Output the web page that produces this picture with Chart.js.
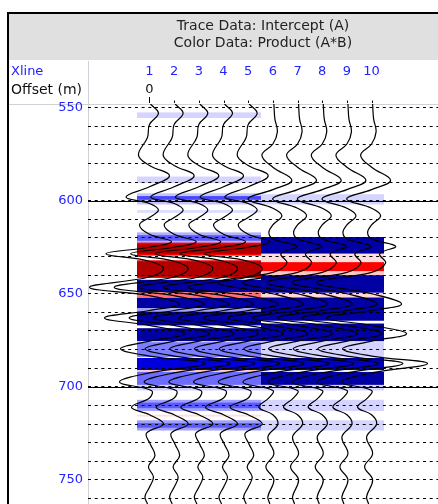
<!DOCTYPE html>
<html>
<head>
<meta charset="utf-8">
<script src="https://cdn.jsdelivr.net/npm/chart.js@4.4.0/dist/chart.umd.min.js"></script>
<style>
  html, body { margin: 0; padding: 0; background: #fff; }
</style>
</head>
<body>
<canvas id="gather" width="438" height="504"></canvas>
<script>
// xline numbers of the traces, and the offset row (one offset only)
const xlines = [1, 2, 3, 4, 5, 6, 7, 8, 9, 10];
const offsets = ['0'];
const timeLabels = [550, 600, 650, 700, 750];
const gridTimes = [550, 560, 570, 580, 590, 600, 610, 620, 630, 640, 650, 660, 670, 680, 690,
  700, 710, 720, 730, 740, 750, 760];
const headerLines = ['Trace Data: Intercept (A)', 'Color Data: Product (A*B)'];

// intercept wiggle, xlines 1-5 (time ms / amplitude)
const wiggleTimeA = [548, 553, 559, 566, 575.5, 581, 586.5, 592.5, 598, 601.5, 605, 609, 613, 618, 622, 625,
  628.5, 632.5, 636.5, 641, 646.5, 651, 655.5, 659, 663, 667, 671.5, 675.5, 679.5, 683.5, 687.5, 692.5,
  697.5, 702, 706, 711, 715, 720, 725, 731, 737, 743, 748.5, 754, 759, 763];
const wiggleAmpA = [1, 9, 0, -2, -11, 0, 20, 0, -23.5, 0, 9, 0, -10, 0, 22, 0,
  -43.5, 0, 14, 0, -60, 0, 30, 0, -45, 0, 35, 0, -29, 0, 56, 0,
  -30, 2, 0, -18, 0, 14, -3, 1, 5.5, -1, 4, 0, -4.5, -2];

// intercept wiggle, xlines 6-10
const wiggleTimeB = [548, 556, 563, 569.5, 575.5, 582, 589, 594, 599, 604, 608, 613, 617, 620.5, 624.5,
  628.5, 633.5, 638.5, 644, 650, 655.5, 659, 663, 667, 671.5, 675.5, 679.5, 683.5, 687.5, 692.5,
  697.5, 702, 706, 711, 715, 720, 727, 736, 743, 750, 759, 763];
const wiggleAmpB = [1, 2, 4.5, 0, -11, 0, 19, 0, -25, 0, 9, 0, -4, 0, 24,
  8, 14, 0, -55, 0, 30, 0, -45, 0, 35, 0, -29, 0, 56, 0,
  -30, 0, -4, -14, 0, 5, -5, 1, -7, 1, -5, -3];

// product colour bands [from ms, to ms, value], later rows paint over earlier ones
const colorBandsA = [
  [552.5, 555.5, -0.15], [587, 590.5, -0.15], [596, 602, -0.2], [597.5, 599.5, -0.55],
  [605, 606.5, -0.12], [617, 623, -0.25], [618.5, 621.5, -0.5],
  [622.5, 629.5, 0.5], [623.5, 628.5, 1], [632, 641.5, 0.6], [632.8, 640.8, 1],
  [642.5, 649.2, -1], [649.2, 652.2, 0.3], [652.2, 657.8, -1], [657.8, 659.6, -0.3],
  [659.6, 667, -1], [668.5, 675.5, -1], [676, 684, -0.4], [684.5, 691, -0.8], [691, 692, 0.15],
  [692, 699, -0.45], [699, 702, -0.15], [707, 713, -0.3], [708.5, 711.5, -0.5],
  [715, 716, 0.1], [718, 723.5, -0.3], [719.5, 722, -0.5]
];
const colorBandsB = [
  [596.5, 602, -0.15], [619.5, 628.5, -1], [628.5, 633, 0.1], [633, 638, 0.5], [638, 640, 0.15],
  [640, 649.5, -1], [649.5, 652, 0.12], [652, 664.5, -1], [666, 675.5, -1],
  [676, 684, -0.15], [684.5, 691, -0.9], [692, 699, -1], [699, 702, -0.15],
  [707, 713, -0.15], [718, 723.5, -0.15]
];

const TRACE_GAIN = 1 / 24.7;
const BLUE_TEXT = '#2323ff';

const colorStops = [
  [-1, [0, 0, 165]], [-0.75, [0, 0, 235]], [-0.5, [90, 90, 255]], [-0.3, [160, 160, 255]],
  [-0.15, [212, 212, 255]], [0, [255, 255, 255]], [0.12, [255, 215, 215]],
  [0.5, [255, 0, 0]], [1, [178, 0, 0]]
];

function productColor(v) {
  for (let i = 1; i < colorStops.length; i++) {
    const [v1, c1] = colorStops[i];
    const [v0, c0] = colorStops[i - 1];
    if (v <= v1) {
      const f = (v - v0) / (v1 - v0);
      const c = c0.map((k, j) => Math.round(k + (c1[j] - k) * f));
      return `rgb(${c[0]},${c[1]},${c[2]})`;
    }
  }
  return 'rgb(178,0,0)';
}

const gatherDecor = {
  id: 'gatherDecor',
  beforeDraw(chart) {
    const { ctx, chartArea: area, scales: { x, y } } = chart;
    ctx.save();
    ctx.fillStyle = '#fff';
    ctx.fillRect(0, 0, chart.width, chart.height);

    // colour cells behind the wiggles
    ctx.beginPath();
    ctx.rect(area.left, area.top, area.right - area.left, area.bottom - area.top);
    ctx.clip();
    xlines.forEach(n => {
      const bands = n <= 5 ? colorBandsA : colorBandsB;
      const left = Math.round(x.getPixelForValue(n - 0.5));
      const right = Math.round(x.getPixelForValue(n + 0.5));
      bands.forEach(([t0, t1, v]) => {
        const top = y.getPixelForValue(t0);
        const bottom = y.getPixelForValue(t1);
        ctx.fillStyle = productColor(v);
        ctx.fillRect(left, top, right - left, bottom - top);
      });
    });
    ctx.restore();

    ctx.save();
    // frame + grey header
    ctx.fillStyle = '#e0e0e0';
    ctx.fillRect(9, 14, chart.width - 9, 46);
    ctx.fillStyle = '#000';
    ctx.fillRect(7, 12, 2, chart.height - 12);
    ctx.fillRect(7, 12, chart.width - 7, 2);
    ctx.strokeStyle = '#cfd0d8';
    ctx.lineWidth = 1;
    ctx.beginPath();
    ctx.moveTo(area.left + 0.5, 61);
    ctx.lineTo(area.left + 0.5, chart.height);
    ctx.moveTo(9, area.top + 0.5);
    ctx.lineTo(chart.width, area.top + 0.5);
    ctx.stroke();

    const midX = (area.left + area.right) / 2;
    ctx.textBaseline = 'middle';
    ctx.textAlign = 'center';
    ctx.fillStyle = '#222';
    ctx.font = '14px "DejaVu Sans"';
    ctx.fillText(headerLines[0], midX, 26);
    ctx.fillText(headerLines[1], midX, 43);

    ctx.textAlign = 'left';
    ctx.fillStyle = BLUE_TEXT;
    ctx.font = '13px "DejaVu Sans"';
    ctx.fillText('Xline', 11, 72);
    ctx.fillStyle = '#111';
    ctx.font = '14px "DejaVu Sans"';
    ctx.fillText('Offset (m)', 11, 90.5);

    ctx.textAlign = 'center';
    ctx.font = '13px "DejaVu Sans"';
    xlines.forEach(n => {
      const px = x.getPixelForValue(n);
      ctx.fillStyle = BLUE_TEXT;
      ctx.fillText(String(n), px, 72);
    });
    ctx.fillStyle = '#111';
    offsets.forEach((o, i) => ctx.fillText(o, x.getPixelForValue(xlines[i]), 90));

    ctx.strokeStyle = '#000';
    ctx.beginPath();
    xlines.forEach((n, i) => {
      const px = Math.round(x.getPixelForValue(n)) + 0.5;
      ctx.moveTo(px, i === 0 ? 97 : 100.5);
      ctx.lineTo(px, 103);
    });
    ctx.stroke();
    ctx.restore();
  },
  beforeDatasetsDraw(chart) {
    const { ctx, chartArea: area, scales: { y } } = chart;
    ctx.save();
    ctx.strokeStyle = '#000';
    ctx.lineWidth = 1;
    ctx.beginPath();
    timeLabels.filter(t => t % 100 === 0).forEach(t => {
      const py = Math.round(y.getPixelForValue(t)) + 0.5;
      ctx.moveTo(area.left, py);
      ctx.lineTo(area.right, py);
    });
    ctx.stroke();
    ctx.restore();
  }
};

const datasets = xlines.map(n => {
  const times = n <= 5 ? wiggleTimeA : wiggleTimeB;
  const amps = n <= 5 ? wiggleAmpA : wiggleAmpB;
  return {
    label: 'Xline ' + n,
    data: times.map((t, i) => ({ x: n + amps[i] * TRACE_GAIN, y: t })),
    showLine: true,
    borderColor: '#000',
    borderWidth: 1.2,
    pointRadius: 0,
    tension: 0.4,
    fill: false
  };
});

new Chart(document.getElementById('gather'), {
  type: 'scatter',
  data: { datasets },
  options: {
    responsive: false,
    animation: false,
    events: [],
    layout: { padding: { top: 104, left: 0, right: 0, bottom: 0 } },
    plugins: {
      legend: { display: false },
      tooltip: { enabled: false }
    },
    scales: {
      x: { type: 'linear', display: false, min: -1.49, max: 12.69 },
      y: {
        type: 'linear',
        position: 'left',
        reverse: true,
        min: 548,
        max: 763,
        afterBuildTicks: s => { s.ticks = gridTimes.map(v => ({ value: v })); },
        afterFit: s => { s.width = 88; s.paddingTop = 0; s.paddingBottom = 0; },
        ticks: {
          autoSkip: false,
          padding: 5,
          color: BLUE_TEXT,
          font: { family: 'DejaVu Sans', size: 13 },
          callback: v => timeLabels.includes(v) ? String(v) : ''
        },
        grid: { color: '#000', lineWidth: 1, drawTicks: false },
        border: { display: false, dash: [3, 3.7] }
      }
    }
  },
  plugins: [gatherDecor]
});
</script>
</body>
</html>
